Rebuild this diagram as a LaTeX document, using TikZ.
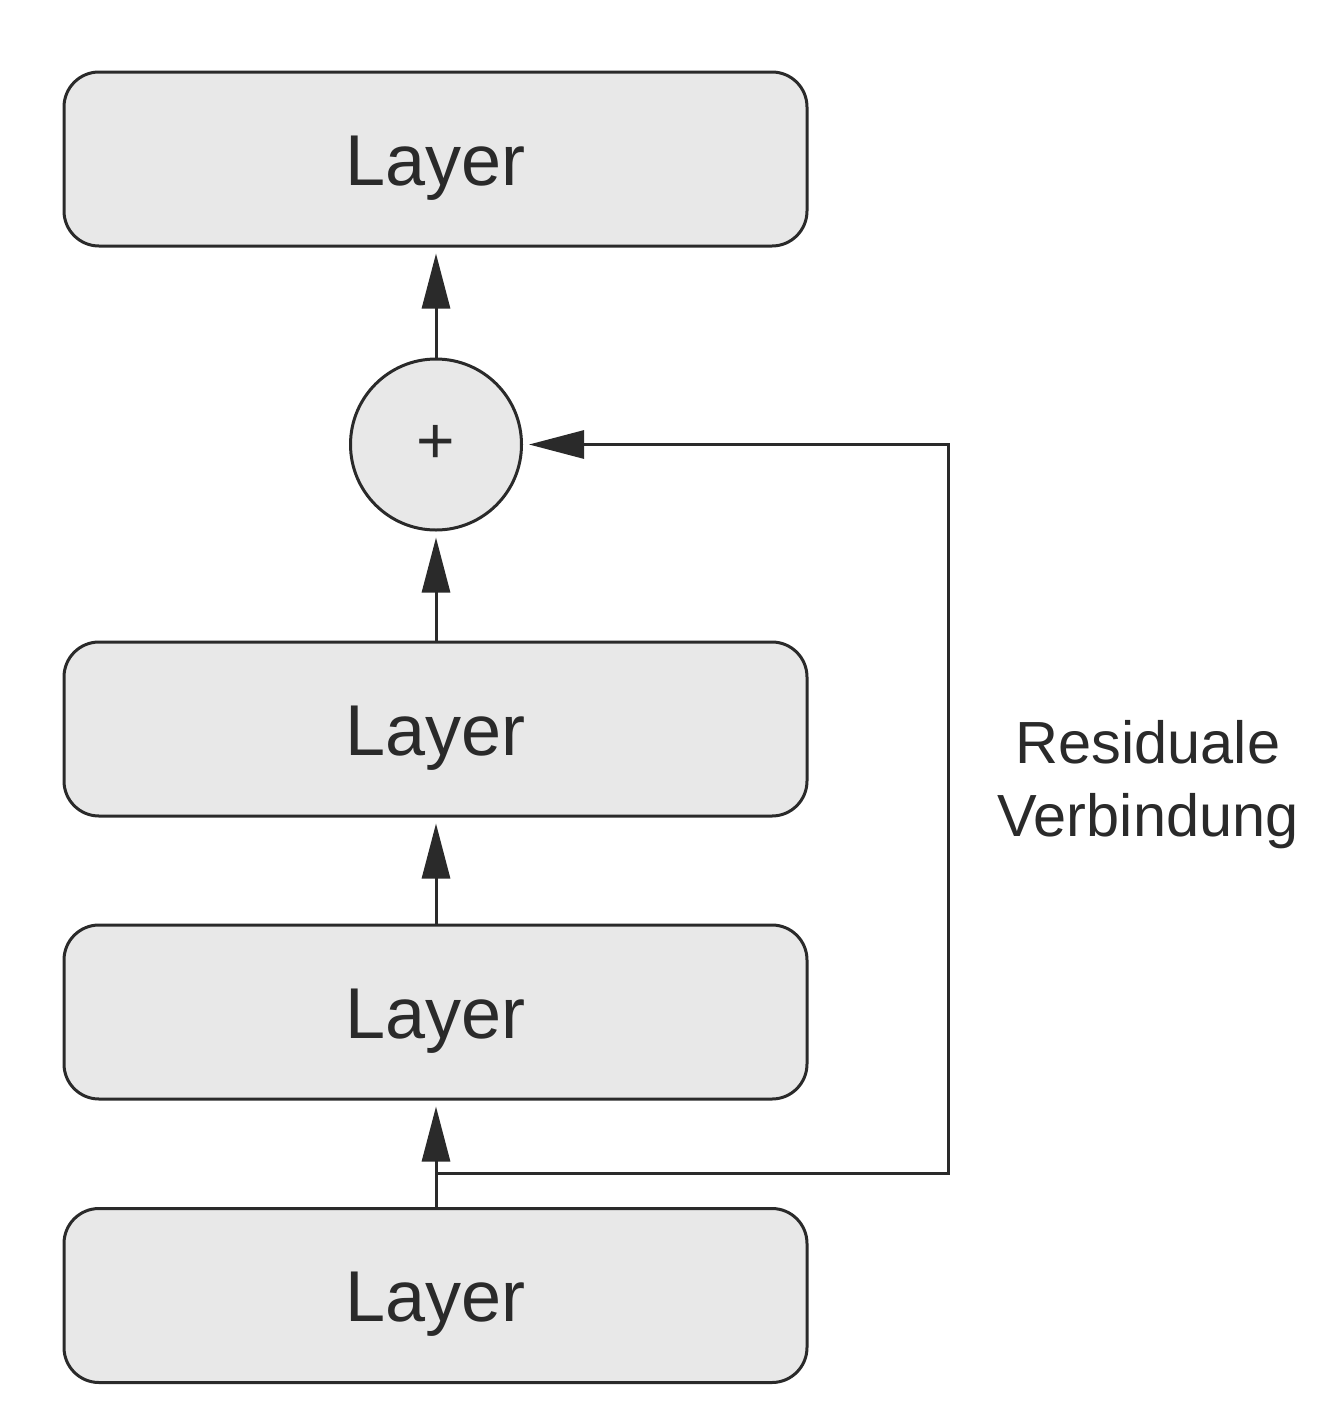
\documentclass[tikz,border=0pt]{standalone}
\usepackage{fontspec}
\setmainfont{Liberation Sans}
\usetikzlibrary{arrows.meta}
\definecolor{ink}{HTML}{2A2A2A}
\definecolor{boxfill}{HTML}{E8E8E8}
\begin{document}
\begin{tikzpicture}[x=1pt,y=-1pt,
  layerbox/.style={draw=ink,fill=boxfill,line width=3pt,rounded corners=35pt,
    minimum width=743pt,minimum height=174pt,inner sep=0pt,
    text height=52pt,text depth=0pt,
    font=\fontsize{72}{80}\selectfont,text=ink},
  sumnode/.style={draw=ink,fill=boxfill,line width=3pt,circle,minimum size=171pt,
    inner sep=0pt,font=\fontsize{66}{68}\selectfont,text=ink},
  conn/.style={draw=ink,line width=3pt,-{Triangle[length=55pt,width=28pt]},shorten >=6pt},
  lbl/.style={align=center,font=\fontsize{59.5}{73}\selectfont,text=ink}]
\useasboundingbox (0,0) rectangle (1336,1427);
\node[layerbox] (l1) at (435.5,159) {Layer};
\node[sumnode] (sum) at (436,444.5) {+};
\node[layerbox] (l2) at (435.5,729) {Layer};
\node[layerbox] (l3) at (435.5,1012) {Layer};
\node[layerbox] (l4) at (435.5,1295.5) {Layer};
\coordinate (j) at (436,1173);
\coordinate (r1) at (948,1173);
\coordinate (r2) at (948,444.5);
\draw[conn] (l4.north -| j) -- (l3.south -| j);
\draw[conn] (l3.north -| j) -- (l2.south -| j);
\draw[conn] (l2.north -| j) -- (sum.south);
\draw[conn] (sum.north) -- (l1.south -| j);
\draw[conn] (j) -- (r1) -- (r2) -- (sum.east);
\node[lbl] (res) at (1148,785) {Residuale\\Verbindung};
\end{tikzpicture}
\end{document}
